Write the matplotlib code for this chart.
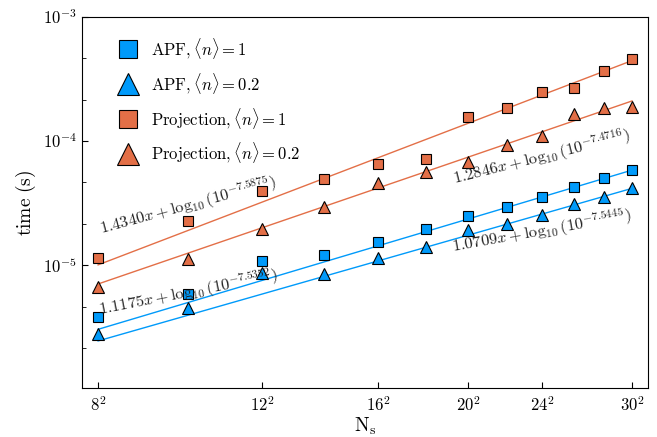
import numpy as np
import matplotlib.pyplot as plt
from matplotlib.ticker import FixedLocator, NullLocator

plt.rcParams['mathtext.fontset'] = 'cm'
plt.rcParams['font.family'] = ['DejaVu Serif']

blue = '#009AFA'
orange = '#E36F47'

N_s = [64, 100, 144, 196, 256, 324, 400, 484, 576, 676, 784, 900]

apf_1 = [3.83e-6, 5.91e-6, 1.08e-5, 1.20e-5, 1.54e-5, 1.94e-5,
         2.48e-5, 2.92e-5, 3.56e-5, 4.26e-5, 5.00e-5, 5.83e-5]
apf_02 = [2.81e-6, 4.53e-6, 8.73e-6, 8.57e-6, 1.15e-5, 1.41e-5,
          1.92e-5, 2.14e-5, 2.53e-5, 3.10e-5, 3.56e-5, 4.20e-5]
proj_1 = [1.15e-5, 2.29e-5, 3.97e-5, 4.94e-5, 6.53e-5, 7.22e-5,
          1.55e-4, 1.86e-4, 2.47e-4, 2.66e-4, 3.67e-4, 4.58e-4]
proj_02 = [6.68e-6, 1.13e-5, 1.94e-5, 2.95e-5, 4.56e-5, 5.62e-5,
           6.81e-5, 9.29e-5, 1.10e-4, 1.65e-4, 1.86e-4, 1.89e-4]

# fit slope / exponent, as printed on the chart
fits = {'apf_1': (1.1175, -7.5352), 'apf_02': (1.0709, -7.5445),
        'proj_1': (1.4340, -7.5875), 'proj_02': (1.2846, -7.4716)}

fig = plt.figure(figsize=(6.57, 4.37), dpi=100)
ax = fig.add_axes([0.1248, 0.1121, 0.8615, 0.849])
ax.set_xscale('log'); ax.set_yscale('log')

xl = np.array([N_s[0], N_s[-1]])
for key, col in [('apf_1', blue), ('apf_02', blue), ('proj_1', orange), ('proj_02', orange)]:
    a, b = fits[key]
    ax.plot(xl, 10**(a*np.log10(xl) + b), color=col, lw=1.0, zorder=1)

mk = dict(linestyle='none', markeredgecolor='black', markeredgewidth=0.8, zorder=3)
ax.plot(N_s, apf_1, 's', color=blue, ms=6.5, label=r'$\mathrm{APF}, \langle n\rangle = 1$', **mk)
ax.plot(N_s, apf_02, '^', color=blue, ms=8, label=r'$\mathrm{APF}, \langle n\rangle = 0.2$', **mk)
ax.plot(N_s, proj_1, 's', color=orange, ms=6.5, label=r'$\mathrm{Projection}, \langle n\rangle = 1$', **mk)
ax.plot(N_s, proj_02, '^', color=orange, ms=8, label=r'$\mathrm{Projection}, \langle n\rangle = 0.2$', **mk)

ann = dict(fontsize=11.8, color='#222222', ha='center', va='center',
           rotation_mode='anchor', zorder=4)
ax.text(100, 3.0e-5, r'$1.4340x + \log_{10}(10^{-7.5875})$', rotation=15, **ann)
ax.text(100, 6.0e-6, r'$1.1175x + \log_{10}(10^{-7.5352})$', rotation=11, **ann)
ax.text(576, 7.4e-5, r'$1.2846x + \log_{10}(10^{-7.4716})$', rotation=14, **ann)
ax.text(576, 1.9e-5, r'$1.0709x + \log_{10}(10^{-7.5445})$', rotation=10, **ann)

ax.set_xlim(59.1, 974)
ax.set_ylim(1.024e-6, 1e-3)

xt = [8, 12, 16, 20, 24, 30]
ax.xaxis.set_major_locator(FixedLocator([s**2 for s in xt]))
ax.xaxis.set_minor_locator(NullLocator())
ax.set_xticklabels([r'$%d^2$' % s for s in xt])
ax.yaxis.set_major_locator(FixedLocator([1e-5, 1e-4, 1e-3]))
ax.set_yticklabels([r'$10^{-5}$', r'$10^{-4}$', r'$10^{-3}$'])
minors = [10**(e - k/3) for e in (-3, -4, -5) for k in (1, 2)]
ax.yaxis.set_minor_locator(FixedLocator(minors))
ax.tick_params(which='both', direction='in', labelsize=12, top=False, right=False)
ax.tick_params(which='major', length=4, width=0.8)
ax.tick_params(which='minor', length=3, width=0.6)
ax.tick_params(axis='x', pad=6)

ax.set_xlabel(r'$\mathrm{N_s}$', fontsize=14, labelpad=0)
ax.set_ylabel(r'$\mathrm{time\ (s)}$', fontsize=14, labelpad=4)

ax.legend(loc='upper left', frameon=False, markerscale=2, fontsize=12,
          bbox_to_anchor=(0.025, 0.99), labelspacing=0.6, handletextpad=0.4)

fig.savefig('out.png', dpi=100)
